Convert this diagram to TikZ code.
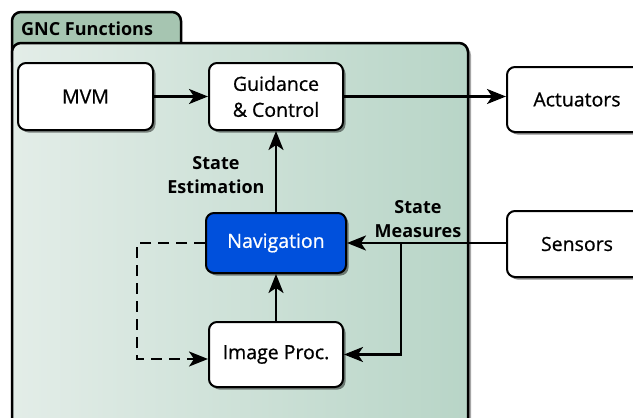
\documentclass[tikz,border=0pt]{standalone}
\usepackage{fontspec}
\setmainfont{Open Sans}
\newfontfamily\boxfont{Open Sans}[FakeBold=0.7]
\usetikzlibrary{arrows.meta,shadows}
\definecolor{tabgreen}{HTML}{A6C5B1}
\definecolor{panelL}{HTML}{E3EDE8}
\definecolor{panelR}{HTML}{B8D5C7}
\definecolor{navblue}{HTML}{0050DC}
\begin{document}
\begin{tikzpicture}[x=1pt,y=-1pt,
  box/.style={draw=black, line width=2pt, rounded corners=8pt, fill=white,
    drop shadow={shadow xshift=2.5pt, shadow yshift=-2.5pt, fill=black, opacity=0.45},
    font=\boxfont\fontsize{19.5}{26}\selectfont, align=center, inner sep=0pt},
  conn/.style={line width=2.3pt, -{Stealth[length=19pt,width=15pt,inset=5pt]}},
  lbl/.style={font=\fontsize{18}{24}\bfseries\selectfont, align=center, inner sep=0pt}]
\useasboundingbox (0,0) rectangle (633,418);
\clip (0,0) rectangle (633,418);
% tab and panel
\draw[line width=2.5pt, rounded corners=9pt, fill=tabgreen] (12,12) rectangle (181,70);
\node[lbl, anchor=west] (tab) at (21,29) {GNC Functions};
\fill[black, opacity=0.35, rounded corners=9pt] (15,46) rectangle (471,448);
\draw[line width=2.5pt, rounded corners=9pt, left color=panelL, right color=panelR] (12,43) rectangle (468,445);
% nodes
\node[box, minimum width=135pt, minimum height=67pt] (mvm) at (85.5,96.5) {MVM};
\node[box, minimum width=134pt, minimum height=67pt] (gc) at (276,96.5) {Guidance\\\& Control};
\node[box, minimum width=140pt, minimum height=65pt] (act) at (577,99.5) {Actuators};
\node[box, minimum width=140pt, minimum height=66pt] (sens) at (577,244) {Sensors};
\node[box, fill=navblue, text=white, minimum width=140pt, minimum height=60pt] (nav) at (276,243) {Navigation};
\node[box, minimum width=134pt, minimum height=65pt] (ip) at (276,354.5) {Image Proc.};
% labels
\node[lbl] (se) at (216,175) {State\\Estimation};
\node[lbl] (sm) at (418,219) {State\\Measures};
% connectors
\coordinate (br) at (401,243);
\coordinate (d1) at (137,243);
\coordinate (d2) at (137,359);
\draw[conn] (mvm.east) -- (gc.west);
\draw[conn] (gc.east) -- (gc.east -| act.west);
\draw[conn] (nav.north) -- (gc.south);
\draw[conn] (ip.north) -- (nav.south);
\draw[conn] (sens.west |- nav.east) -- (nav.east);
\draw[conn] (br) |- (ip.east);
\draw[conn, dash pattern=on 11pt off 7pt] (nav.west) -- (d1) -- (d2) -- (d2 -| ip.west);
\end{tikzpicture}
\end{document}
